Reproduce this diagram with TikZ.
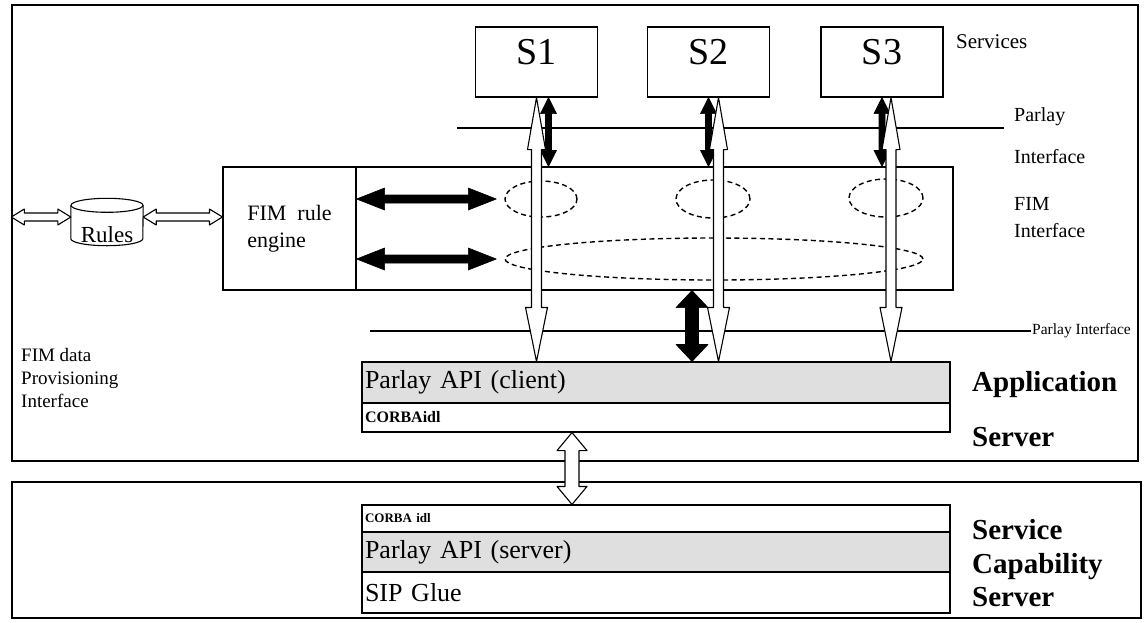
\documentclass[tikz,border=0pt]{standalone}
\usepackage{fontspec}
\setmainfont{Liberation Serif}
\usetikzlibrary{shapes.geometric,calc}
\newcommand\fsz[2]{\fontsize{#1}{#2}\selectfont}
% vertical double arrow: style, top point, bottom point, shaft half, top head half, top head len, bottom head half, bottom head len
\newcommand\vdbl[8]{%
 \draw[#1] let \p1=(#2), \p2=(#3) in
  (\x1,\y1) -- (\x1+#5,\y1-#6) -- (\x1+#4,\y1-#6) -- (\x1+#4,\y2+#8) -- (\x1+#7,\y2+#8) -- (\x1,\y2)
  -- (\x1-#7,\y2+#8) -- (\x1-#4,\y2+#8) -- (\x1-#4,\y1-#6) -- (\x1-#5,\y1-#6) -- cycle;}
% horizontal double arrow: style, left point, right point, shaft half, left head half, left head len, right head half, right head len
\newcommand\hdbl[8]{%
 \draw[#1] let \p1=(#2), \p2=(#3) in
  (\x1,\y1) -- (\x1+#6,\y1+#5) -- (\x1+#6,\y1+#4) -- (\x2-#8,\y1+#4) -- (\x2-#8,\y1+#7) -- (\x2,\y1)
  -- (\x2-#8,\y1-#7) -- (\x2-#8,\y1-#4) -- (\x1+#6,\y1-#4) -- (\x1+#6,\y1-#5) -- cycle;}
\begin{document}
\begin{tikzpicture}[x=1pt,y=-1pt,
  box/.style={draw,line width=1.1pt,inner sep=0pt},
  frame/.style={draw,line width=1.4pt,inner sep=0pt},
  sbox/.style={box,minimum width=122pt,text height=37pt,text depth=33pt,font=\fsz{38}{38}},
  dell/.style={ellipse,draw,dash pattern=on 5pt off 3.5pt,line width=1.4pt,inner sep=0pt},
  layer/.style={box,text width=582pt,align=left,inner xsep=3pt,inner ysep=0pt},
  hollow/.style={draw=black,fill=white,line width=1.1pt,line join=round},
  solidarr/.style={draw=black,fill=black,line width=0.6pt,line join=round},
  iface/.style={line width=1.1pt},
  lbl/.style={inner sep=1pt,anchor=west}]
\useasboundingbox (0,0) rectangle (1145,622);

% outer frames
\node[frame,minimum width=1126pt,minimum height=456pt] (app) at (575,233) {};
\node[frame,minimum width=1129pt,minimum height=136pt] (scs) at (576.5,550) {};

% services
\node[sbox] (s1) at (536.5,62) {S1};
\node[sbox] (s2) at (708.5,62) {S2};
\node[sbox] (s3) at (882,62) {S3};
\node[lbl,font=\fsz{21}{24}] (svc) at (955,42) {Services};

% upper Parlay interface line
\node[lbl,font=\fsz{20}{24}] (pl1) at (1013,117) {Parlay};
\node[lbl,font=\fsz{20}{24}] (pl1b) at (1013,157) {Interface};
\coordinate (pl1s) at (457,128);
\coordinate (pl1e) at (1004,128);
\draw[iface] (pl1s) -- (pl1e);

% FIM interface box and rule engine
\node[box,minimum width=730pt,minimum height=123pt] (fim) at (588,228.5) {};
\node[box,minimum width=133pt,minimum height=123pt,align=left,font=\fsz{22}{27}] (eng) at (289.5,228.5) {FIM~ rule\\engine};
\node[lbl,align=left,font=\fsz{20}{27}] (fimlbl) at (1013,218) {FIM\\Interface};

% dashed ellipses
\node[dell,minimum width=72pt,minimum height=36pt] (e1) at (541,199) {};
\node[dell,minimum width=74pt,minimum height=38pt] (e2) at (713,199) {};
\node[dell,minimum width=74pt,minimum height=38pt] (e3) at (886,198) {};
\node[dell,minimum width=418pt,minimum height=42pt] (eall) at (714,259) {};

% rules database
\node[inner sep=0pt,minimum width=72pt,text height=44pt,text depth=3pt,font=\fsz{23}{23}] (rules) at (107,222) {Rules};
\draw[line width=1.1pt] ($(rules.north west)+(0,7)$) -- ($(rules.south west)+(0,-7)$)
   arc[start angle=180,end angle=360,x radius=36pt,y radius=7pt] -- ($(rules.north east)+(0,7)$);
\draw[line width=1.1pt] ($(rules.north)+(0,7)$) ellipse[x radius=36pt,y radius=7pt];
\node[lbl,align=left,font=\fsz{19}{23}] (prov) at (20,378) {FIM data\\Provisioning\\Interface};

% lower Parlay interface line
\node[lbl,font=\fsz{15.5}{18}] (pl2) at (1031,331) {Parlay Interface};
\coordinate (pl2s) at (370,331);
\draw[iface] (pl2s) -- (pl2.west);

% application server stack
\node[layer,fill=gray!25,minimum height=41pt,font=\fsz{26}{26}] (apic) at (656,382.5) {Parlay API (client)};
\node[layer,minimum height=29pt,font=\bfseries\fsz{16}{16}] (corba1) at (656,417.5) {CORBAidl};
\node[lbl,font=\bfseries\fsz{29}{29}] (aslbl1) at (971,385) {Application};
\node[lbl,font=\bfseries\fsz{29}{29}] (aslbl2) at (971,437) {Server};

% service capability server stack
\node[layer,minimum height=27pt,font=\bfseries\fsz{13}{13}] (cidl) at (656,518.5) {CORBA idl};
\node[layer,fill=gray!25,minimum height=40pt,font=\fsz{26}{26}] (apis) at (656,552) {Parlay API (server)};
\node[layer,minimum height=41pt,font=\fsz{26}{26}] (sip) at (656,592.5) {SIP Glue};
\node[lbl,align=left,font=\bfseries\fsz{29}{33.5}] (scslbl) at (971,563.5) {Service\\Capability\\Server};

% coordinates for arrows
\coordinate (b1t) at ($(s1.south)+(12,0)$);
\coordinate (b2t) at (s2.south);
\coordinate (b3t) at (s3.south);
\coordinate (w1t) at (s1.south);
\coordinate (w2t) at ($(s2.south)+(10,0)$);
\coordinate (w3t) at ($(s3.south)+(9,0)$);
\coordinate (mb) at (692,0);
\coordinate (mx) at (572,0);
\coordinate (h1e) at ($(e1.west)+(-8,0)$);
\coordinate (h2e) at ($(eall.west)+(-8,0)$);
\coordinate (ra) at ($(rules.west)+(0,-5)$);

% black arrows services <-> FIM interface
\vdbl{solidarr}{b1t}{b1t |- fim.north}{3pt}{8pt}{16pt}{8pt}{16pt}
\vdbl{solidarr}{b2t}{b2t |- fim.north}{3pt}{8pt}{16pt}{8pt}{16pt}
\vdbl{solidarr}{b3t}{b3t |- fim.north}{3pt}{8pt}{16pt}{8pt}{16pt}

% white arrows services <-> Parlay API
\vdbl{hollow}{w1t}{w1t |- apic.north}{5pt}{9pt}{52pt}{11pt}{54pt}
\vdbl{hollow}{w2t}{w2t |- apic.north}{5pt}{9pt}{52pt}{11pt}{54pt}
\vdbl{hollow}{w3t}{w3t |- apic.north}{5pt}{9pt}{52pt}{11pt}{54pt}

% black arrow FIM interface <-> Parlay API
\vdbl{solidarr}{mb |- fim.south}{mb |- apic.north}{6.5pt}{16pt}{17pt}{16pt}{17pt}

% black arrows rule engine <-> ellipses
\hdbl{solidarr}{eng.east |- e1.west}{h1e}{4pt}{11pt}{28pt}{11pt}{28pt}
\hdbl{solidarr}{eng.east |- eall.west}{h2e}{4pt}{11pt}{28pt}{11pt}{28pt}

% hollow arrows around rules
\hdbl{hollow}{app.west |- ra}{ra}{4pt}{8pt}{13pt}{8pt}{13pt}
\hdbl{hollow}{ra -| rules.east}{ra -| eng.west}{4pt}{8pt}{13pt}{8pt}{13pt}

% hollow arrow between servers
\vdbl{hollow}{mx |- corba1.south}{mx |- cidl.north}{7pt}{15pt}{18pt}{15pt}{18pt}
\end{tikzpicture}
\end{document}
